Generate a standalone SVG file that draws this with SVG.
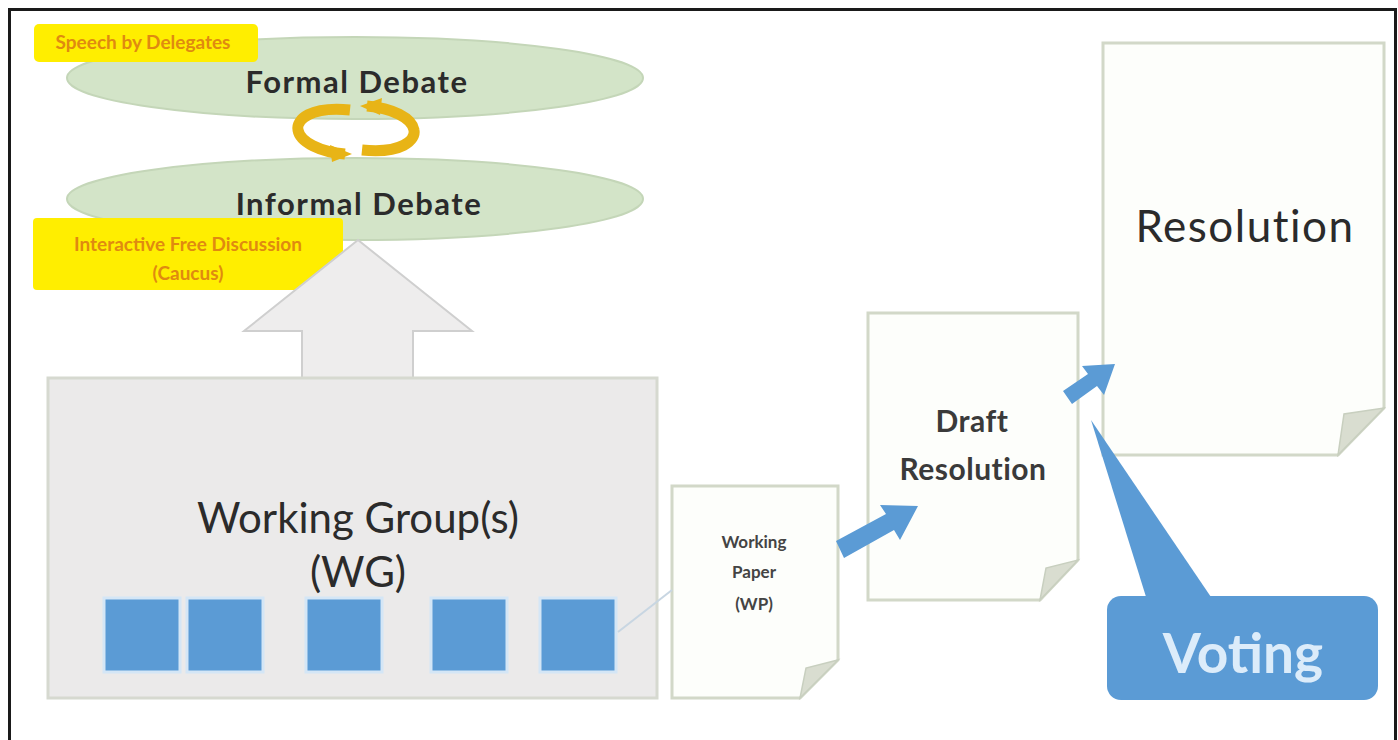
<svg xmlns="http://www.w3.org/2000/svg" width="1398" height="740" viewBox="0 0 1398 740">
<defs>
<style>
.t{font-family:Lato,"Open Sans","Liberation Sans",sans-serif;text-anchor:middle}
.dark{fill:#2b2b2b}
.ell{fill:#d3e4c8;stroke:#c4d6b8;stroke-width:2}
.hl{fill:#ffee00}
.hlt{fill:#e08a10;font-size:19px;font-weight:bold}
.doc{fill:#fdfefb;stroke:#d2d8c8;stroke-width:3}
.fold{fill:#d9ddd0;stroke:#c8cfbf;stroke-width:1.5}
.blue{fill:#5b9bd5}
.sq{fill:#5b9bd5;stroke:#d4e6f6;stroke-width:3}
</style>
</defs>
<rect x="0" y="0" width="1398" height="740" fill="#ffffff"/>
<rect x="9.5" y="9.5" width="1386" height="760" fill="#ffffff" stroke="#1a1a1a" stroke-width="3"/>

<g id="formal-debate">
<ellipse class="ell" cx="355" cy="78" rx="288" ry="41"/>
<text class="t dark" x="357" y="93" font-size="31" font-weight="bold" letter-spacing="1.5">Formal Debate</text>
</g>
<g id="speech-label">
<rect class="hl" x="34" y="24" width="224" height="38" rx="5"/>
<text class="t hlt" x="143" y="49">Speech by Delegates</text>
</g>

<g id="informal-debate">
<ellipse class="ell" cx="355" cy="199" rx="288" ry="41"/>
<text class="t dark" x="359" y="215" font-size="31" font-weight="bold" letter-spacing="1.5">Informal Debate</text>
</g>

<g id="cycle">
<path d="M 350 110 C 310 106 296 120 298 130 C 300 142 320 152 345 154" fill="none" stroke="#e8b416" stroke-width="11"/>
<polygon points="330,145 352,154 332,162" fill="#e8b416"/>
<path d="M 362 150 C 402 154 416 140 414 130 C 412 118 392 108 367 106" fill="none" stroke="#e8b416" stroke-width="11"/>
<polygon points="382,98 360,106 380,115" fill="#e8b416"/>
</g>

<g id="caucus-label">
<rect class="hl" x="33" y="218" width="310" height="72" rx="4"/>
<text class="t hlt" x="188" y="251">Interactive Free Discussion</text>
<text class="t hlt" x="188" y="280">(Caucus)</text>
</g>

<g id="up-arrow">
<polygon points="358,240 472,331 413,331 413,380 302,380 302,331 244,331" fill="#eeeded" stroke="#cfcfcf" stroke-width="2"/>
</g>

<g id="working-group">
<rect x="48" y="378" width="609" height="320" fill="#ebeaea" stroke="#d6d9d0" stroke-width="3"/>
<text class="t dark" x="358" y="533" font-size="42">Working Group(s)</text>
<text class="t dark" x="358" y="587" font-size="42">(WG)</text>
<rect class="sq" x="104" y="598" width="76" height="74"/>
<rect class="sq" x="187" y="598" width="76" height="74"/>
<rect class="sq" x="306" y="598" width="76" height="74"/>
<rect class="sq" x="431" y="598" width="76" height="74"/>
<rect class="sq" x="540" y="598" width="76" height="74"/>
</g>

<g id="working-paper">
<path class="doc" d="M672 486 H838 V660 L800 698 H672 Z"/>
<path class="fold" d="M838 660 L800 698 L806 668 Z"/>
<text class="t" x="754" y="548" font-size="17" font-weight="bold" fill="#444">Working</text>
<text class="t" x="754" y="578" font-size="17" font-weight="bold" fill="#444">Paper</text>
<text class="t" x="754" y="610" font-size="17" font-weight="bold" fill="#444">(WP)</text>
</g>

<g id="draft-resolution">
<path class="doc" d="M868 313 H1078 V560 L1040 600 H868 Z"/>
<path class="fold" d="M1078 560 L1040 600 L1046 568 Z"/>
<text class="t" x="972" y="432" font-size="30" font-weight="bold" letter-spacing="0.5" fill="#3a3a3a">Draft</text>
<text class="t" x="973" y="480" font-size="30" font-weight="bold" letter-spacing="0.5" fill="#3a3a3a">Resolution</text>
</g>

<g id="resolution">
<path class="doc" d="M1103 43 H1384 V408 L1338 455 H1103 Z"/>
<path class="fold" d="M1384 408 L1338 455 L1344 414 Z"/>
<text class="t dark" x="1245" y="242" font-size="44" letter-spacing="1.5">Resolution</text>
</g>

<g id="voting">
<polygon class="blue" points="1091,420 1147,600 1213,600" />
<rect class="blue" x="1107" y="596" width="271" height="104" rx="14"/>
<text class="t" x="1243" y="673" font-size="55" font-weight="bold" fill="#dcecfa">Voting</text>
</g>

<g id="connectors">
<line x1="618" y1="632" x2="672" y2="590" stroke="#c8d6e2" stroke-width="2"/>
<polygon class="blue" points="836,541 886,514 880,505 918,506 900,540 894,530 844,558"/>
<polygon class="blue" points="1063,391 1088,374 1082,366 1115,364 1104,395 1097,386 1072,404"/>
</g>
</svg>
